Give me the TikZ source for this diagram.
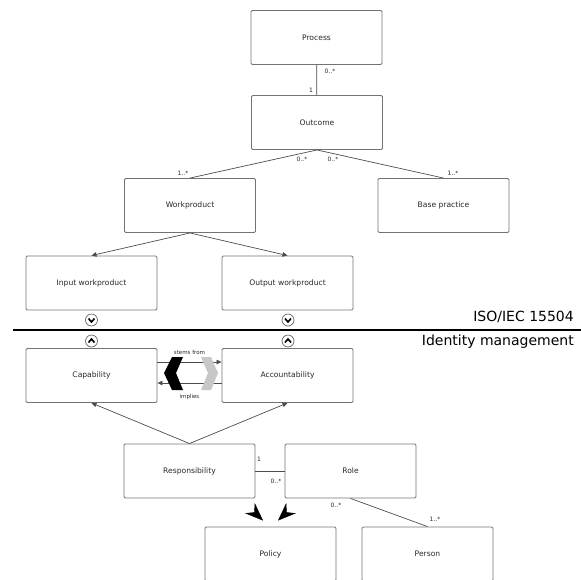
\documentclass[tikz,border=0pt]{standalone}
\usepackage{fontspec}
\setmainfont{DejaVu Sans}
\usetikzlibrary{arrows.meta}

\begin{document}
\begin{tikzpicture}[x=1pt,y=-1pt,
    box/.style={draw=black!55, rounded corners=1.2pt, line width=0.9pt,
                minimum width=131pt, minimum height=54pt,
                text=black!85, font=\fontsize{7.6}{9}\selectfont},
    mult/.style={inner sep=0pt, text=black!85, font=\fontsize{6}{7}\selectfont},
    link/.style={draw=black!70, line width=0.7pt},
    arr/.style={link, -{Triangle[length=5pt,width=4.5pt]}},
    dart/.style={-{Stealth[length=18pt,width=14pt,inset=6pt]}},
    side/.style={anchor=east, inner sep=0pt, font=\fontsize{14}{16}\selectfont}]
    \useasboundingbox (0,0) rectangle (581,579);
    \clip (0,0) rectangle (581,579);

    % ISO/IEC 15504 part
    \node[box] (process)  at (316.5,37.5)  {Process};
    \node[box] (outcome)  at (317,122.5)   {Outcome};
    \node[box] (workprod) at (190,205.5)   {Workproduct};
    \node[box] (basepr)   at (443.5,205.5) {Base practice};
    \node[box] (inputwp)  at (91.5,283)    {Input workproduct};
    \node[box] (outputwp) at (287.5,283)   {Output workproduct};

    \draw[link] (process) -- (outcome);
    \node[mult] at (330,71) {0..*};
    \node[mult] at (311,90) {1};

    \draw[link] (outcome.south) -- (workprod.north);
    \draw[link] (outcome.south) -- (basepr.north);
    \node[mult] at (302,159) {0..*};
    \node[mult] at (333,159) {0..*};
    \node[mult] at (183,173) {1..*};
    \node[mult] at (453,173) {1..*};

    \draw[arr] (workprod.south) -- (inputwp.north);
    \draw[arr] (workprod.south) -- (outputwp.north);

    % border between the two parts
    \draw[line width=2pt] (13,330) -- (581,330);
    \node[side] (isolbl) at (574,317) {ISO/IEC 15504};
    \node[side] (idmlbl) at (574,342) {Identity management};

    \foreach \x in {91.5,288} {
        \draw[black!60, line width=0.7pt] (\x,320) circle (6pt);
        \draw[line width=1.6pt] (\x-3,318.5) -- (\x,322) -- (\x+3,318.5);
        \draw[black!60, line width=0.7pt] (\x,341) circle (6pt);
        \draw[line width=1.6pt] (\x-3,342.5) -- (\x,339) -- (\x+3,342.5);
    }

    % Identity management part
    \node[box] (capab)   at (91.5,375.5)  {Capability};
    \node[box] (account) at (287.5,375.5) {Accountability};
    \node[box] (resp)    at (189.5,471)   {Responsibility};
    \node[box] (role)    at (350.5,471)   {Role};
    \node[box] (policy)  at (270.5,554)   {Policy};
    \node[box] (person)  at (427.5,554)   {Person};

    \draw[arr] ([yshift=13.5pt]capab.east) -- ([yshift=13.5pt]account.west)
        node[midway, yshift=10pt, mult, font=\fontsize{5.5}{6}\selectfont] {stems from};
    \draw[arr] ([yshift=-7.5pt]account.west) -- ([yshift=-7.5pt]capab.east)
        node[midway, yshift=-14pt, mult, font=\fontsize{5.5}{6}\selectfont] {implies};
    \fill[black] (183,357) -- (172,357) -- (164,373) -- (172,390)
        -- (183,390) -- (176,373) -- cycle;
    \fill[black!22] (201,357) -- (211,357) -- (218,373) -- (211,390)
        -- (201,390) -- (208,373) -- cycle;

    \draw[arr] (resp.north) -- (capab.south);
    \draw[arr] (resp.north) -- (account.south);

    \draw[link] (resp.east) -- (role.west);
    \node[mult] at (259,459) {1};
    \node[mult] at (276,481) {0..*};

    \draw[link] (role.south) -- (person.north);
    \node[mult] at (336,505) {0..*};
    \node[mult] at (435,519) {1..*};

    % the two darts above Policy
    \coordinate (polL) at (254,512);
    \coordinate (polR) at (287,512);
    \draw[dart] (polL) -- ([shift={(-7.5pt,6pt)}]policy.north);
    \draw[dart] (polR) -- ([shift={(7.5pt,6pt)}]policy.north);
\end{tikzpicture}
\end{document}
